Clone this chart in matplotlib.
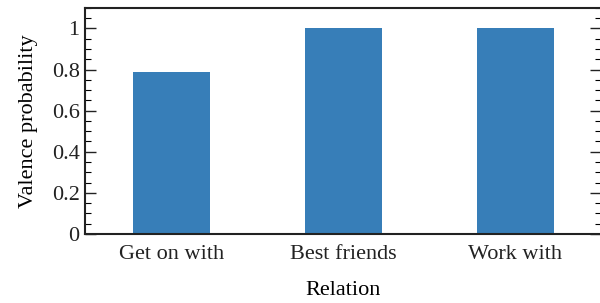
import numpy as np
import matplotlib
matplotlib.use("Agg")
import matplotlib.pyplot as plt
from matplotlib.ticker import MultipleLocator

relations = ["Get on with", "Best friends", "Work with"]
valence_prob = [0.79, 1.0, 1.0]

plt.rcParams["font.family"] = ["Liberation Serif", "DejaVu Serif"]
plt.rcParams["font.size"] = 16

fig = plt.figure(figsize=(6.0, 3.03), dpi=100)
ax = fig.add_axes([0.142, 0.228, 0.860, 0.746])

x = np.arange(len(relations))
ax.bar(x, valence_prob, width=0.45, color="#377eb8", zorder=2)

ax.set_xlim(-0.5, 2.5)
ax.set_ylim(0, 1.1)
ax.set_xticks(x)
ax.set_xticklabels(relations)
ax.set_yticks([0, 0.2, 0.4, 0.6, 0.8, 1.0])
ax.set_yticklabels(["0", "0.2", "0.4", "0.6", "0.8", "1"])
ax.yaxis.set_minor_locator(MultipleLocator(0.05))

ax.tick_params(axis="x", length=0, pad=8, colors="#222222")
ax.tick_params(axis="y", which="major", direction="in", length=8, width=1,
               left=True, right=True, pad=4, colors="#222222")
ax.tick_params(axis="y", which="minor", direction="in", length=4, width=0.8,
               left=True, right=True)

for s in ax.spines.values():
    s.set_linewidth(1.5)
    s.set_color("#222222")

ax.set_xlabel("Relation", labelpad=12)
ax.set_ylabel("Valence probability", labelpad=10)

fig.savefig("out.png", dpi=100)
